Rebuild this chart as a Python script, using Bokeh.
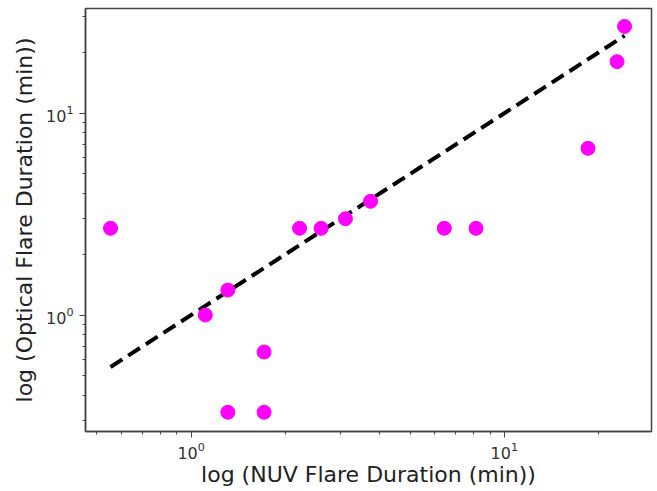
import numpy as np
from bokeh.plotting import figure
from bokeh.models import Range1d, FixedTicker, LogTickFormatter
from bokeh.embed import file_html
from bokeh.resources import INLINE

# NUV flare duration (min)
nuv_duration = [0.553, 1.11, 1.31, 1.71, 1.31, 1.71, 2.22, 2.60, 3.11, 3.74, 6.43, 8.12, 18.5, 22.9, 24.2]
# Optical flare duration (min)
optical_duration = [2.69, 1.00, 1.33, 0.656, 0.33, 0.33, 2.69, 2.69, 3.00, 3.66, 2.69, 2.69, 6.7, 18.0, 26.9]

# power-law fit: log10(y) = slope*log10(x) + intercept
fit_slope = 1.0
fit_intercept = 0.0
fit_x = np.array([0.553, 24.2])
fit_y = 10 ** (fit_slope * np.log10(fit_x) + fit_intercept)

major_ticks = [1, 10]
minor_ticks = [0.2, 0.3, 0.4, 0.5, 0.6, 0.7, 0.8, 0.9, 2, 3, 4, 5, 6, 7, 8, 9, 20, 30]

p = figure(width=657, height=491, x_axis_type="log", y_axis_type="log",
           x_range=Range1d(0.46, 29.5), y_range=Range1d(0.265, 33.0),
           output_backend="svg", toolbar_location=None,
           min_border_left=85, min_border_right=6, min_border_top=8, min_border_bottom=60)

p.xgrid.visible = False
p.ygrid.visible = False
p.outline_line_color = "#444444"
p.outline_line_width = 1.5
p.background_fill_color = "white"
p.border_fill_color = "white"

p.line(fit_x, fit_y, line_color="black", line_width=4, line_dash="14 7")
p.scatter(nuv_duration, optical_duration, size=14, fill_color="#ff00ff", line_color="#ff00ff")

for ax in (p.xaxis[0], p.yaxis[0]):
    ax.ticker = FixedTicker(ticks=major_ticks, minor_ticks=minor_ticks)
    ax.formatter = LogTickFormatter()
    ax.axis_line_color = "#444444"
    ax.axis_line_width = 1.5
    ax.major_tick_line_color = "#444444"
    ax.minor_tick_line_color = "#444444"
    ax.major_tick_out = 6
    ax.major_tick_in = 0
    ax.minor_tick_out = 3
    ax.minor_tick_in = 0
    ax.major_label_text_font = "DejaVu Sans"
    ax.major_label_text_font_size = "16px"
    ax.major_label_text_color = "#333333"
    ax.axis_label_text_font = "DejaVu Sans"
    ax.axis_label_text_font_size = "22px"
    ax.axis_label_text_font_style = "normal"
    ax.axis_label_text_color = "#222222"

p.xaxis.axis_label = "log (NUV Flare Duration (min))"
p.yaxis.axis_label = "log (Optical Flare Duration (min))"
p.xaxis.major_label_standoff = 4
p.yaxis.major_label_standoff = 6
p.xaxis.axis_label_standoff = 0
p.yaxis.axis_label_standoff = 6

open("out.html", "w").write(file_html(p, INLINE))
